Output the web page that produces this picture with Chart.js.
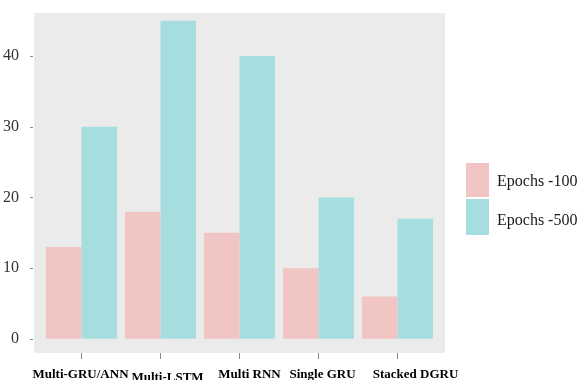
<!DOCTYPE html>
<html>
<head>
<meta charset="utf-8">
<script src="https://cdn.jsdelivr.net/npm/chart.js@4/dist/chart.umd.min.js"></script>
<style>
  html, body { margin: 0; padding: 0; background: #fff; }
  #wrap { width: 582px; height: 380px; position: relative; }
</style>
</head>
<body>
<div id="wrap"><canvas id="c" width="582" height="380"></canvas></div>
<script>
// Models compared and their scores after 100 and 500 training epochs
const models = ['Multi-GRU/ANN', 'Multi-LSTM', 'Multi RNN', 'Single GRU', 'Stacked DGRU'];
const epochs100 = [13, 18, 15, 10, 6];
const epochs500 = [30, 45, 40, 20, 17];
const yTicks = [0, 10, 20, 30, 40];
const seriesNames = ['Epochs -100', 'Epochs -500'];

const pink = 'rgb(240,197,196)';
const teal = 'rgb(166,222,223)';
const serif = '"Liberation Serif", "DejaVu Serif", serif';

// Grey panel (slightly wider than the plotting area, like ggplot's expansion),
// y tick marks, category labels and the legend on the right.
const panelPlugin = {
  id: 'panel',
  beforeDraw(chart) {
    const { ctx, chartArea: a } = chart;
    ctx.save();
    ctx.fillStyle = '#ebebeb';
    ctx.fillRect(a.left - 8, a.top, a.right - a.left + 16, a.bottom - a.top);
    ctx.restore();
  },
  afterDraw(chart) {
    const { ctx, chartArea: a, scales } = chart;
    ctx.save();
    ctx.strokeStyle = '#8a8a8a';
    ctx.lineWidth = 1;
    yTicks.forEach(v => {
      const y = Math.round(scales.y.getPixelForValue(v)) + 0.5;
      ctx.beginPath();
      ctx.moveTo(a.left - 12, y);
      ctx.lineTo(a.left - 9, y);
      ctx.stroke();
    });

    // category labels, nudged sideways / down a little as in the layout
    const nudgeX = [-1, 7, 10, 4, 18];
    const nudgeY = [0, 3, 0, 0, 0];
    ctx.font = 'bold 13px ' + serif;
    ctx.fillStyle = '#000';
    ctx.textAlign = 'center';
    ctx.textBaseline = 'alphabetic';
    models.forEach((m, i) => {
      const x = scales.x.getPixelForValue(i) + nudgeX[i];
      ctx.fillText(m, x, a.bottom + 25 + nudgeY[i]);
    });

    // legend
    const colors = [pink, teal];
    const boxes = [[466, 163, 23, 34], [466, 199, 23, 36]];
    const textY = [182, 221];
    ctx.font = '16px ' + serif;
    ctx.textBaseline = 'middle';
    ctx.textAlign = 'left';
    seriesNames.forEach((name, i) => {
      ctx.fillStyle = colors[i];
      ctx.fillRect(...boxes[i]);
      ctx.fillStyle = '#1a1a1a';
      ctx.fillText(name, 497, textY[i]);
    });
    ctx.restore();
  }
};

new Chart(document.getElementById('c'), {
  type: 'bar',
  data: {
    labels: models,
    datasets: [
      { label: seriesNames[0], data: epochs100, backgroundColor: pink },
      { label: seriesNames[1], data: epochs500, backgroundColor: teal }
    ]
  },
  options: {
    responsive: false,
    animation: false,
    devicePixelRatio: 1,
    layout: { padding: { top: 13, right: 145, left: 0, bottom: 0 } },
    plugins: {
      legend: { display: false },
      tooltip: { enabled: false }
    },
    datasets: {
      bar: { categoryPercentage: 0.9, barPercentage: 1.0 }
    },
    scales: {
      x: {
        offset: true,
        border: { display: false },
        grid: {
          display: true,
          offset: false,
          drawOnChartArea: false,
          drawTicks: true,
          tickLength: 6,
          color: '#8a8a8a'
        },
        ticks: { display: false },
        afterFit(s) {
          s.height = 27;
          s.paddingLeft = 0; s.paddingRight = 0;
        }
      },
      y: {
        min: -2,
        max: 46.1,
        border: { display: false },
        grid: { display: false },
        afterBuildTicks(s) { s.ticks = yTicks.map(v => ({ value: v })); },
        ticks: {
          color: '#333',
          font: { family: serif, size: 16 },
          padding: 15
        },
        afterFit(s) {
          s.width = 42;
          s.paddingTop = 0; s.paddingBottom = 0;
        }
      }
    }
  },
  plugins: [panelPlugin]
});
</script>
</body>
</html>
